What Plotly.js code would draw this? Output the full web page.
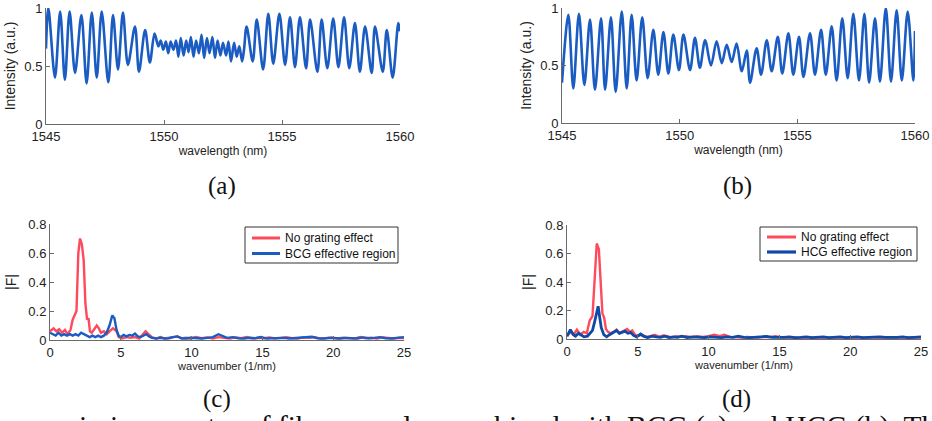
<!DOCTYPE html>
<html><head><meta charset="utf-8">
<script src="https://cdn.plot.ly/plotly-3.0.1.min.js"></script>
<style>html,body{margin:0;padding:0;background:#fff;} #chart{width:932px;height:421px;}</style>
</head><body><div id="chart"></div>
<script>
// ---- (a) transmission spectrum, BCG ----
const wlA = [1545.0,1545.1,1545.38,1545.6,1545.8,1546.0,1546.23,1546.5,1546.72,1546.94,1547.15,1547.36,1547.64,1547.84,1548.05,1548.26,1548.47,1548.77,1548.94,1549.2,1549.4,1549.6,1549.76,1549.86,1549.97,1550.08,1550.18,1550.28,1550.40,1550.51,1550.61,1550.71,1550.83,1550.94,1551.04,1551.14,1551.25,1551.36,1551.48,1551.59,1551.70,1551.82,1551.93,1552.05,1552.16,1552.27,1552.39,1552.5,1552.63,1552.73,1552.84,1552.97,1553.08,1553.19,1553.31,1553.39,1553.5,1553.76,1553.93,1554.2,1554.42,1554.63,1554.89,1555.13,1555.34,1555.55,1555.76,1556.02,1556.19,1556.5,1556.68,1556.92,1557.17,1557.39,1557.63,1557.85,1558.09,1558.3,1558.52,1558.8,1558.94,1559.27,1559.44,1559.69,1559.93,1560.0];
const intensityA = [0.65,1.0,0.40,0.97,0.38,0.97,0.44,0.94,0.35,0.96,0.40,0.97,0.36,0.94,0.47,0.96,0.51,0.84,0.45,0.81,0.53,0.78,0.67,0.72,0.64,0.71,0.61,0.71,0.64,0.72,0.58,0.74,0.59,0.72,0.62,0.75,0.58,0.72,0.61,0.77,0.57,0.74,0.61,0.75,0.57,0.72,0.59,0.70,0.59,0.71,0.54,0.70,0.58,0.67,0.54,0.64,0.84,0.54,0.90,0.47,0.95,0.52,0.95,0.51,0.92,0.49,0.92,0.48,0.90,0.45,0.90,0.48,0.91,0.49,0.92,0.48,0.87,0.45,0.84,0.44,0.84,0.45,0.81,0.40,0.87,0.80];

// ---- (b) transmission spectrum, HCG ----
const wlB = [1545.0,1545.27,1545.48,1545.72,1545.95,1546.19,1546.40,1546.66,1546.83,1547.08,1547.28,1547.54,1547.75,1547.96,1548.17,1548.41,1548.64,1548.88,1549.09,1549.31,1549.52,1549.73,1549.97,1550.16,1550.44,1550.65,1550.86,1551.08,1551.33,1551.57,1551.79,1552.0,1552.21,1552.42,1552.64,1552.85,1552.99,1553.27,1553.46,1553.70,1553.91,1554.17,1554.36,1554.62,1554.83,1555.07,1555.26,1555.54,1555.75,1556.01,1556.21,1556.46,1556.67,1556.91,1557.14,1557.38,1557.62,1557.85,1558.05,1558.30,1558.51,1558.76,1558.98,1559.22,1559.44,1559.69,1559.93,1560.0];
const intensityB = [0.35,0.94,0.30,0.95,0.33,0.90,0.29,0.91,0.29,0.92,0.27,0.97,0.30,0.94,0.37,0.92,0.39,0.81,0.42,0.79,0.43,0.77,0.46,0.77,0.46,0.74,0.48,0.72,0.50,0.71,0.52,0.68,0.53,0.69,0.45,0.63,0.35,0.65,0.42,0.72,0.45,0.75,0.43,0.78,0.42,0.75,0.40,0.78,0.42,0.81,0.42,0.84,0.37,0.91,0.39,0.95,0.37,0.95,0.35,0.91,0.36,1.0,0.36,0.98,0.37,0.97,0.37,0.80];

// ---- (c) spectra |F|: no grating vs BCG ----
const kCred = [0,0.25,0.45,0.65,0.85,1.05,1.25,1.45,1.6,1.75,1.87,2.0,2.12,2.25,2.38,2.5,2.62,2.72,2.82,2.95,3.1,3.3,3.45,3.6,3.8,4.0,4.2,4.45,4.7,4.85,5.1,5.4,5.7,6.0,6.3,6.55,6.75,6.95,7.2,7.5,7.8,8.1,8.4,8.7,9.0,9.3,9.6,9.9,10.3,10.7,11.1,11.5,11.9,12.3,12.7,13.1,13.5,13.9,14.3,14.7,15.1,15.5,15.9,16.3,16.7,17.1,17.5,17.9,18.3,18.7,19.1,19.5,19.9,20.3,20.7,21.1,21.5,21.9,22.3,22.7,23.1,23.5,23.9,24.3,24.7,25];
const fCred = [0.06,0.08,0.06,0.075,0.05,0.07,0.04,0.07,0.14,0.17,0.2,0.6,0.70,0.66,0.55,0.25,0.14,0.15,0.06,0.05,0.07,0.10,0.08,0.05,0.06,0.04,0.06,0.08,0.06,0.02,0.01,0.02,0.015,0.02,0.01,0.04,0.06,0.04,0.02,0.01,0.02,0.01,0.015,0.02,0.025,0.01,0.015,0.01,0.02,0.012,0.018,0.01,0.02,0.015,0.01,0.018,0.012,0.02,0.01,0.015,0.012,0.018,0.01,0.015,0.02,0.012,0.01,0.018,0.015,0.02,0.01,0.012,0.018,0.01,0.015,0.012,0.01,0.02,0.012,0.015,0.01,0.018,0.012,0.01,0.015,0.012];
const kCblue = [0,0.2,0.4,0.6,0.8,1.0,1.2,1.4,1.6,1.8,2.0,2.2,2.4,2.6,2.8,3.0,3.2,3.4,3.6,3.8,4.0,4.2,4.4,4.55,4.7,4.85,5.0,5.2,5.4,5.6,5.8,6.0,6.2,6.4,6.6,6.8,7.0,7.2,7.5,7.8,8.1,8.4,8.7,9.0,9.3,9.6,9.9,10.3,10.7,11.1,11.5,11.9,12.2,12.5,12.9,13.3,13.7,14.1,14.5,14.9,15.3,15.7,16.1,16.5,16.9,17.3,17.7,18.1,18.5,18.9,19.3,19.7,20.1,20.5,20.9,21.3,21.7,22.1,22.5,22.9,23.3,23.7,24.1,24.5,25];
const fCblue = [0.05,0.04,0.03,0.05,0.03,0.04,0.03,0.04,0.03,0.04,0.03,0.05,0.04,0.03,0.02,0.03,0.02,0.03,0.02,0.03,0.05,0.10,0.17,0.15,0.07,0.03,0.02,0.035,0.025,0.035,0.03,0.045,0.025,0.02,0.03,0.04,0.025,0.015,0.01,0.015,0.01,0.012,0.02,0.025,0.012,0.01,0.015,0.012,0.01,0.015,0.02,0.04,0.03,0.015,0.02,0.012,0.01,0.015,0.012,0.02,0.01,0.012,0.015,0.015,0.01,0.012,0.015,0.018,0.022,0.012,0.01,0.015,0.012,0.01,0.015,0.012,0.01,0.018,0.012,0.015,0.02,0.012,0.01,0.015,0.02];

// ---- (d) spectra |F|: no grating vs HCG ----
const kDred = [0,0.24,0.47,0.7,0.94,1.18,1.4,1.6,1.8,1.95,2.1,2.25,2.4,2.5,2.62,2.75,2.9,3.1,3.3,3.5,3.7,3.9,4.1,4.25,4.45,4.6,4.8,5.0,5.3,5.6,5.9,6.2,6.5,6.8,7.1,7.4,7.7,8.0,8.4,8.8,9.2,9.6,10.0,10.4,10.8,11.1,11.5,11.9,12.3,12.7,13.1,13.5,13.9,14.3,14.7,15.1,15.5,16,17,18,19,20,21,22,23,24,25];
const fDred = [0.02,0.05,0.03,0.065,0.03,0.05,0.04,0.13,0.16,0.4,0.67,0.63,0.35,0.18,0.15,0.07,0.05,0.04,0.05,0.065,0.04,0.05,0.06,0.07,0.05,0.06,0.03,0.02,0.03,0.015,0.02,0.03,0.015,0.025,0.02,0.01,0.02,0.015,0.02,0.012,0.02,0.015,0.02,0.03,0.02,0.03,0.015,0.012,0.01,0.015,0.012,0.01,0.015,0.012,0.02,0.012,0.01,0.01,0.01,0.01,0.01,0.01,0.01,0.01,0.01,0.01,0.01];
const kDblue = [0,0.24,0.45,0.6,0.82,1.0,1.2,1.45,1.65,1.8,1.95,2.1,2.2,2.3,2.42,2.6,2.8,3.0,3.2,3.5,3.7,3.9,4.1,4.3,4.5,4.7,4.9,5.2,5.4,5.7,6.0,6.3,6.6,6.9,7.2,7.5,7.8,8.1,8.5,8.9,9.3,9.7,10.1,10.5,10.9,11.3,11.7,12.1,12.5,12.9,13.3,13.7,14.1,14.5,14.9,15.3,15.7,16.1,16.5,16.9,17.3,17.7,18.1,18.5,18.9,19.3,19.7,20.1,20.5,20.9,21.3,21.7,22.1,22.5,22.9,23.3,23.7,24.1,24.5,25];
const fDblue = [0.02,0.065,0.03,0.02,0.04,0.03,0.015,0.02,0.04,0.06,0.12,0.2,0.23,0.16,0.08,0.03,0.015,0.03,0.04,0.06,0.04,0.05,0.055,0.04,0.045,0.025,0.015,0.035,0.02,0.01,0.02,0.015,0.012,0.02,0.01,0.015,0.012,0.02,0.01,0.015,0.012,0.01,0.015,0.012,0.01,0.015,0.012,0.02,0.012,0.01,0.012,0.015,0.018,0.012,0.01,0.012,0.015,0.01,0.012,0.015,0.01,0.012,0.015,0.01,0.012,0.015,0.01,0.012,0.015,0.01,0.012,0.01,0.015,0.012,0.01,0.012,0.015,0.01,0.012,0.015];

// ---- labels / ticks ----
const wlTicks = [1545,1550,1555,1560];
const intTicks = [0,0.5,1];
const kTicks = [0,5,10,15,20,25];
const fTicks = [0,0.2,0.4,0.6,0.8];
const legendRed = 'No grating effect';
const legendBCG = 'BCG effective region';
const legendHCG = 'HCG effective region';
const subCaptions = ['(a)','(b)','(c)','(d)'];
const captionLine = 'mission spectra of fiber samples combined with BCG (a) and HCG (b). The';

const W = 932, H = 421;
const px = v => v / W;
const py = v => 1 - v / H;
const BLUE = '#1a5cc2', BLUE_D = '#0f4aa6', RED = '#ff4a5c';
const SANS = 'Liberation Sans, Arial, sans-serif';
const SERIF = 'Liberation Serif, Times New Roman, serif';

function ax(extra) {
  return Object.assign({
    showline: true, linecolor: '#6a6a6a', linewidth: 1,
    ticks: 'inside', ticklen: 4, tickcolor: '#6a6a6a', tickwidth: 1,
    showgrid: false, zeroline: false, mirror: false, fixedrange: true,
    tickfont: {family: SANS, size: 13, color: '#222'}
  }, extra);
}

const traces = [
  {x: wlA, y: intensityA, xaxis: 'x', yaxis: 'y', type: 'scatter', mode: 'lines', name: 'BCG spectrum',
   line: {color: BLUE, width: 2.6, shape: 'spline', smoothing: 0.9}, showlegend: false},
  {x: wlB, y: intensityB, xaxis: 'x2', yaxis: 'y2', type: 'scatter', mode: 'lines', name: 'HCG spectrum',
   line: {color: BLUE, width: 2.6, shape: 'spline', smoothing: 0.9}, showlegend: false},
  {x: kCred, y: fCred, xaxis: 'x3', yaxis: 'y3', type: 'scatter', mode: 'lines', name: legendRed,
   line: {color: RED, width: 2.4}, showlegend: false},
  {x: kCblue, y: fCblue, xaxis: 'x3', yaxis: 'y3', type: 'scatter', mode: 'lines', name: legendBCG,
   line: {color: BLUE, width: 2.4}, showlegend: false},
  {x: kDred, y: fDred, xaxis: 'x4', yaxis: 'y4', type: 'scatter', mode: 'lines', name: legendRed,
   line: {color: RED, width: 2.4}, showlegend: false},
  {x: kDblue, y: fDblue, xaxis: 'x4', yaxis: 'y4', type: 'scatter', mode: 'lines', name: legendHCG,
   line: {color: BLUE_D, width: 2.8}, showlegend: false}
];

const xTitleFont = {family: SANS, size: 12, color: '#222'};
const yTitleFont = {family: SANS, size: 14, color: '#222'};

// legend boxes drawn as shapes + text (pixel positions of the boxes)
function legendBox(x0, y0, x1, y1, keyX0, keyX1, rows) {
  const shapes = [{type: 'rect', xref: 'paper', yref: 'paper', x0: px(x0), x1: px(x1), y0: py(y1), y1: py(y0),
    line: {color: '#333', width: 1}, fillcolor: '#fff', layer: 'above'}];
  const anns = [];
  rows.forEach(r => {
    shapes.push({type: 'line', xref: 'paper', yref: 'paper', x0: px(keyX0), x1: px(keyX1), y0: py(r.y), y1: py(r.y),
      line: {color: r.color, width: r.w}, layer: 'above'});
    anns.push({text: r.text, x: px(keyX1 + 3), y: py(r.y), xref: 'paper', yref: 'paper', xanchor: 'left', yanchor: 'middle',
      showarrow: false, font: {family: SANS, size: 12, color: '#111'}});
  });
  return {shapes, anns};
}
const legC = legendBox(245, 227, 398, 263, 252, 280, [
  {y: 238, color: RED, w: 3, text: legendRed}, {y: 253.5, color: BLUE, w: 3, text: legendBCG}]);
const legD = legendBox(760, 227, 917, 261, 767, 796, [
  {y: 237, color: RED, w: 3, text: legendRed}, {y: 252, color: BLUE_D, w: 3.2, text: legendHCG}]);

function cap(text, x, y) {
  return {text, x: px(x), y: py(y), xref: 'paper', yref: 'paper', xanchor: 'center', yanchor: 'middle',
    showarrow: false, font: {family: SERIF, size: 25, color: '#111'}};
}

const layout = {
  width: W, height: H, margin: {l: 0, r: 0, t: 0, b: 0},
  paper_bgcolor: '#fff', plot_bgcolor: '#fff', showlegend: false,
  xaxis: ax({domain: [px(46), px(400)], range: [1545, 1560], anchor: 'y', tickvals: wlTicks,
    title: {text: 'wavelength (nm)', font: xTitleFont, standoff: 3}}),
  yaxis: ax({domain: [py(124), py(8)], range: [0, 1], anchor: 'x', tickvals: intTicks,
    title: {text: 'Intensity (a.u.)', font: yTitleFont, standoff: 5}}),
  xaxis2: ax({domain: [px(562), px(915)], range: [1545, 1560], anchor: 'y2', tickvals: wlTicks,
    title: {text: 'wavelength (nm)', font: xTitleFont, standoff: 3}}),
  yaxis2: ax({domain: [py(123), py(8)], range: [0, 1], anchor: 'x2', tickvals: intTicks,
    title: {text: 'Intensity (a.u.)', font: yTitleFont, standoff: 5}}),
  xaxis3: ax({domain: [px(50), px(404)], range: [0, 25], anchor: 'y3', tickvals: kTicks,
    title: {text: 'wavenumber (1/nm)', font: {family: SANS, size: 11, color: '#222'}, standoff: 1}}),
  yaxis3: ax({domain: [py(340), py(224)], range: [0, 0.8], anchor: 'x3', tickvals: fTicks,
    title: {text: '|F|', font: yTitleFont, standoff: 8}}),
  xaxis4: ax({domain: [px(567), px(921)], range: [0, 25], anchor: 'y4', tickvals: kTicks,
    title: {text: 'wavenumber (1/nm)', font: {family: SANS, size: 11, color: '#222'}, standoff: 1}}),
  yaxis4: ax({domain: [py(339), py(225)], range: [0, 0.8], anchor: 'x4', tickvals: fTicks,
    title: {text: '|F|', font: yTitleFont, standoff: 8}}),
  shapes: [...legC.shapes, ...legD.shapes],
  annotations: [
    cap(subCaptions[0], 222, 186), cap(subCaptions[1], 737, 186),
    cap(subCaptions[2], 217, 399), cap(subCaptions[3], 736, 399),
    ...legC.anns, ...legD.anns,
    {text: captionLine, x: px(54), y: py(426), xref: 'paper', yref: 'paper', xanchor: 'left', yanchor: 'middle',
     showarrow: false, font: {family: SERIF, size: 29.5, color: '#111'}}
  ]
};

Plotly.newPlot('chart', traces, layout, {staticPlot: true, displayModeBar: false});
</script>
</body></html>
